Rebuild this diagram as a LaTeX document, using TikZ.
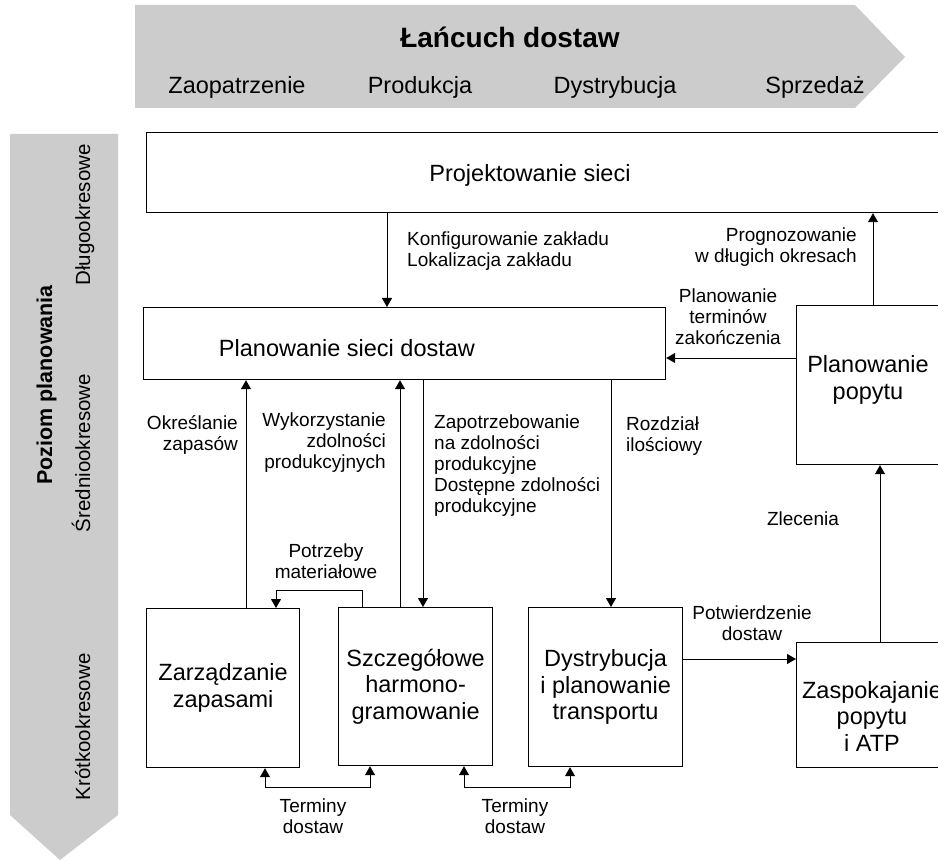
\documentclass[tikz,border=0pt]{standalone}
\usepackage{fontspec}
\setmainfont{Liberation Sans}
\usetikzlibrary{arrows.meta}

\newcommand{\duzy}{\fontsize{23.5}{26.5}\selectfont}
\newcommand{\maly}{\fontsize{19}{21}\selectfont}

\tikzset{
  blok/.style={draw, line width=1.2pt, anchor=north west, inner sep=0pt, align=center, font=\duzy},
  opis/.style={inner sep=0pt, font=\maly},
  strz/.style={line width=0.9pt, -{Triangle[length=9pt,width=10pt]}},
  strzz/.style={line width=0.9pt, {Triangle[length=9pt,width=10pt]}-{Triangle[length=9pt,width=10pt]}},
  poziom/.style={rotate=90, anchor=base, inner sep=0pt, font=\fontsize{20.5}{24}\selectfont},
}

\begin{document}
\begin{tikzpicture}[x=1pt,y=-1pt]
\useasboundingbox (0,0) rectangle (938,861);
\clip (0,0) rectangle (938,861);

% Lancuch dostaw
\fill[black!20] (135,5) -- (855,5) -- (905,57) -- (855,108) -- (135,108) -- cycle;
\node[font=\bfseries\fontsize{28}{30}\selectfont, anchor=base, inner sep=0pt] (lancuch) at (510,48) {Łańcuch dostaw};
\node[font=\duzy, anchor=base, inner sep=0pt] (zaop) at (237,94) {Zaopatrzenie};
\node[font=\duzy, anchor=base, inner sep=0pt] (prod) at (420,94) {Produkcja};
\node[font=\duzy, anchor=base, inner sep=0pt] (dystr) at (615,94) {Dystrybucja};
\node[font=\duzy, anchor=base, inner sep=0pt] (sprz) at (815,94) {Sprzedaż};

% Poziom planowania
\fill[black!20] (10,134) -- (118,134) -- (118,815) -- (60,860) -- (10,815) -- cycle;
\node[poziom, font=\bfseries\fontsize{21.5}{24}\selectfont] (pozplan) at (52,385) {Poziom planowania};
\node[poziom] (dlugo) at (90,215) {Długookresowe};
\node[poziom] (srednio) at (90,453) {Średniookresowe};
\node[poziom] (krotko) at (90,727) {Krótkookresowe};

% bloki
\node[blok, minimum width=820pt, minimum height=80pt] (pr) at (146,132) {};
\node[font=\duzy, inner sep=0pt] (prt) at (530,175) {Projektowanie sieci};
\node[blok, minimum width=522pt, minimum height=72pt] (psd) at (143,307) {};
\node[font=\duzy, inner sep=0pt] (psdt) at (347,348) {Planowanie sieci dostaw};
\node[blok, minimum width=160pt, minimum height=159pt] (pp) at (796,305) {};
\node[font=\duzy, inner sep=0pt, align=center] (ppt) at (868,380) {Planowanie\\popytu};
\node[blok, minimum width=153pt, minimum height=159pt] (zz) at (146,608) {Zarządzanie\\zapasami};
\node[blok, minimum width=154pt, minimum height=158pt] (sh) at (338,607) {Szczegółowe\\harmono-\\gramowanie};
\node[blok, minimum width=154pt, minimum height=159pt] (dp) at (528,607) {Dystrybucja\\i planowanie\\transportu};
\node[blok, minimum width=160pt, minimum height=125pt] (za) at (796,642) {};
\node[font=\duzy, inner sep=0pt, align=center] (zat) at (872,716) {Zaspokajanie\\popytu\\i ATP};

% polaczenia
\draw[strz] ([xshift=241pt]pr.south west) -- ([xshift=244pt]psd.north west);
\draw[strz] ([xshift=77pt]pp.north west) -- ([xshift=727pt]pr.south west);
\draw[strz] ([yshift=-53pt]pp.north west) -- ([yshift=-51pt]psd.north east);
\draw[strz] ([xshift=84pt]za.north west) -- ([xshift=84pt]pp.south west);
\draw[strz] ([yshift=-52pt]dp.north east) -- ([yshift=-17pt]za.north west);
\draw[strz] ([xshift=468pt]psd.south west) -- ([xshift=83pt]dp.north west);
\draw[strz] ([xshift=100pt]zz.north west) -- ([xshift=103pt]psd.south west);
\draw[strz] ([xshift=62pt]sh.north west) -- ([xshift=257pt]psd.south west);
\draw[strz] ([xshift=280pt]psd.south west) -- ([xshift=85pt]sh.north west);
\draw[strz] ([xshift=24pt]sh.north west) -- ([xshift=24pt,yshift=17pt]sh.north west) -| ([xshift=130pt]zz.north west);
\draw[strzz] ([xshift=119pt]zz.south west) -- ([xshift=119pt,yshift=-19pt]zz.south west) -| ([xshift=32pt]sh.south west);
\draw[strzz] ([xshift=126pt]sh.south west) -- ([xshift=126pt,yshift=-21pt]sh.south west) -| ([xshift=42pt]dp.south west);

% opisy
\node[opis, anchor=west, align=left] (konf) at (407,251) {Konfigurowanie zakładu\\Lokalizacja zakładu};
\node[opis, anchor=east, align=right] (progn) at (857,247) {Prognozowanie\\w długich okresach};
\node[opis, align=center] (term) at (728,317) {Planowanie\\terminów\\zakończenia};
\node[opis, anchor=east, align=right] (okr) at (238,435) {Określanie\\zapasów};
\node[opis, anchor=east, align=right] (wyk) at (386,443) {Wykorzystanie\\zdolności\\produkcyjnych};
\node[opis, anchor=west, align=left] (zapotrz) at (434,466) {Zapotrzebowanie\\na zdolności\\produkcyjne\\Dostępne zdolności\\produkcyjne};
\node[opis, anchor=west, align=left] (rozdz) at (626,436) {Rozdział\\ilościowy};
\node[opis, align=center] (potrz) at (326,561) {Potrzeby\\materiałowe};
\node[opis] (zlec) at (803,519) {Zlecenia};
\node[opis, align=center] (potw) at (752,623) {Potwierdzenie\\dostaw};
\node[opis, align=center] (term1) at (313,816) {Terminy\\dostaw};
\node[opis, align=center] (term2) at (515,816) {Terminy\\dostaw};
\end{tikzpicture}
\end{document}
